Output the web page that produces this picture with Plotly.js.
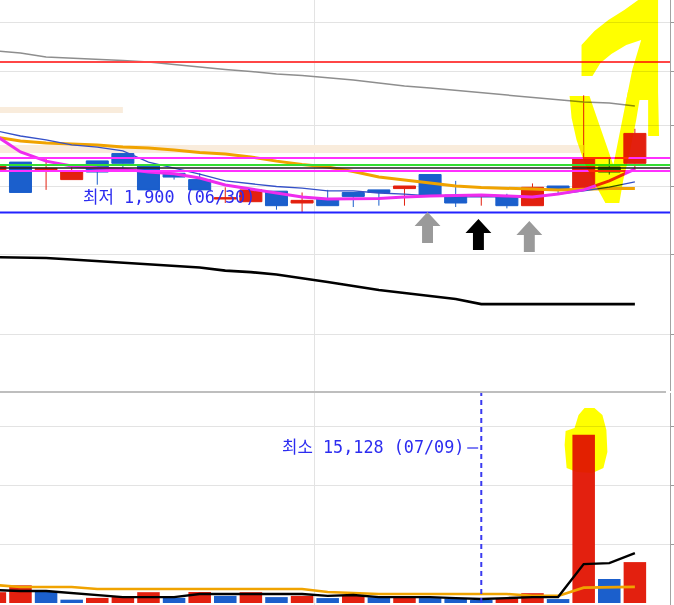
<!DOCTYPE html>
<html><head><meta charset="utf-8">
<script src="https://cdn.plot.ly/plotly-3.0.1.min.js"></script>
<style>
html,body{margin:0;padding:0;background:#fff;}
#chart{width:674px;height:605px;}
</style></head><body><div id="chart"></div>
<script>
// ---- data (index 0 = 06/12, partially visible at the left edge) ----
const dates = ['06/12','06/15','06/16','06/17','06/18','06/19','06/22','06/23','06/24','06/25','06/26','06/29','06/30',
               '07/01','07/02','07/03','07/06','07/07','07/08','07/09','07/10','07/13','07/14','07/15','07/16','07/17'];
const openP  = [2060,2095,2065,2025,2100,2130,2080,2050,2025,1950,1940,1980,1935,1950,1975,1985,1990,2045,1965,1960,1960,1925,2000,1990,2075,2090];
const highP  = [2100,2095,2110,2075,2100,2130,2080,2050,2050,1995,1985,1980,1975,1985,1975,1985,2000,2045,2020,1965,1970,2010,2000,2385,2110,2235];
const lowP   = [2045,1975,1985,2025,2005,2055,1985,2025,1985,1935,1940,1910,1900,1925,1920,1925,1925,1960,1920,1925,1915,1925,1970,1990,2045,2060];
const closeP = [2085,1975,2070,2055,2055,2090,1985,2035,1985,1955,1985,1925,1945,1925,1960,1975,2000,1960,1935,1965,1925,1995,1985,2110,2055,2215];

const ma5   = [2208,2137,2099,2079,2071,2067,2055,2048,2031,2004,1988,1973,1958,1950,1950,1952,1958,1962,1963,1965,1962,1958,1969,1985,2020,2067];
const ma10  = [2227,2204,2187,2166,2157,2141,2095,2071,2047,2020,2008,1998,1992,1981,1981,1973,1969,1962,1958,1958,1958,1958,1969,1981,1996,2016];
const ma20  = [2200,2183,2174,2170,2166,2157,2153,2145,2134,2128,2116,2099,2085,2075,2057,2035,2023,2010,2000,1994,1990,1988,1985,1988,1990,1990];
const ma60  = [1742,1741,1739,1734,1729,1724,1719,1712,1707,1697,1692,1684,1673,1660,1647,1634,1625,1615,1606,1590,1590,1590,1590,1590,1590,1590];
const ma120 = [2600,2589,2569,2564,2557,2552,2545,2532,2520,2508,2498,2486,2479,2469,2457,2443,2429,2419,2408,2396,2384,2373,2364,2354,2350,2336];

const volume = [55000,90000,57000,17000,26000,31000,55000,26000,56000,36000,55000,30000,36000,25000,41000,29000,31000,25000,23000,15128,25000,50000,20000,855000,122000,208000];
const volumeDir = ['up','up','down','down','up','up','up','down','up','down','up','down','up','down','up','down','up','down','down','down','up','up','down','up','down','up'];
const volMa5  = [66000,61000,61000,51000,41000,30000,30000,30000,46000,46000,46000,46000,46000,36000,41000,30000,30000,30000,25000,20000,25000,30000,30000,198000,203000,254000];
const volMa20 = [92000,81000,81000,81000,71000,71000,71000,71000,71000,71000,71000,71000,71000,56000,51000,46000,46000,46000,46000,46000,46000,36000,36000,78000,80000,82000];

const levelPrices = [2545, 2112, 2083, 2071, 2059, 1900];
const zoneLow  = [2305, 2132];
const zoneHigh = [2332, 2166];
const zoneEndIdx = [5, 23];
const priceGrid = [1500,1750,2000,2250,2500,2750];
const volGrid = [300000,600000,900000];
const lowLabel = '최저 1,900 (06/30)';
const minVolLabel = '최소 15,128 (07/09)';
const minVolIdx = 19;
const monthBoundary = 12.5;
const arrowIdx = [17, 19, 21];

// ---- styles ----
const RED = '#e3200f', BLUE = '#1b5fcc';
const levelColors = ['#ff4646','#ff30ff','#33dd33','#222222','#ff30ff','#2222ff'];
const levelWidths = [2,2,2,1.6,2,2];
const xIdx = dates.map((d,i)=>i);

const W = 674, H = 605;
const px = x => x / W;
const py = y => 1 - y / H;
function path(pts){ return 'M' + pts.map(p => px(p[0]).toFixed(5) + ',' + py(p[1]).toFixed(5)).join(' L') + ' Z'; }

const traces = [];
zoneLow.forEach((lo,k)=>{
  traces.push({type:'scatter', mode:'lines', x:[-2, zoneEndIdx[k], zoneEndIdx[k], -2], y:[lo, lo, zoneHigh[k], zoneHigh[k]],
    fill:'toself', fillcolor:'#f9ecdc', line:{width:0}, hoverinfo:'skip', xaxis:'x', yaxis:'y'});
});
const maDefs = [[ma120,'#8e8e8e',1.5],[ma60,'#000000',2.6],[ma20,'#f0a300',3],[ma10,'#3550c8',1.3],[ma5,'#ee2cee',3]];
maDefs.forEach(m=>traces.push({type:'scatter', mode:'lines', x:xIdx, y:m[0], line:{color:m[1], width:m[2]}, hoverinfo:'skip', xaxis:'x', yaxis:'y'}));
traces.push({type:'candlestick', x:xIdx, open:openP, high:highP, low:lowP, close:closeP, text:dates,
  increasing:{line:{color:RED, width:1}, fillcolor:RED},
  decreasing:{line:{color:BLUE, width:1}, fillcolor:BLUE},
  whiskerwidth:0, hoverinfo:'skip', xaxis:'x', yaxis:'y'});
levelPrices.forEach((p,k)=>traces.push({type:'scatter', mode:'lines', x:[-2, 30], y:[p,p], line:{color:levelColors[k], width:levelWidths[k]}, hoverinfo:'skip', xaxis:'x', yaxis:'y'}));
traces.push({type:'bar', x:xIdx, y:volume, marker:{color:volumeDir.map(d=>d==='up'?RED:BLUE), line:{width:0}}, width:0.88, hoverinfo:'skip', xaxis:'x', yaxis:'y2'});
traces.push({type:'scatter', mode:'lines', x:xIdx, y:volMa20, line:{color:'#f0a300', width:2.6}, hoverinfo:'skip', xaxis:'x', yaxis:'y2'});
traces.push({type:'scatter', mode:'lines', x:xIdx, y:volMa5, line:{color:'#000000', width:2.4}, hoverinfo:'skip', xaxis:'x', yaxis:'y2'});

const x0 = 0.2, pitch = 25.6, plotW = 670;
const upperBottom = 1 - 391/H, lowerTop = 1 - 393/H;

const shapes = [
  {type:'line', xref:'paper', yref:'paper', x0:0, x1:plotW/W, y0:py(392), y1:py(392), line:{color:'#a9a9a9', width:1.6}},
  {type:'line', xref:'x', yref:'paper', x0:minVolIdx, x1:minVolIdx, y0:py(603), y1:py(393), line:{color:'#3a3af0', width:2, dash:'5px,4px'}},
  {type:'line', xref:'paper', yref:'paper', x0:px(470), x1:px(481), y0:py(448), y1:py(448), line:{color:'#3a3af0', width:1.3}},
];
const arrowColors = ['#9a9a9a','#000000','#9a9a9a'];
const arrowTop = [212, 219, 221];
arrowIdx.forEach((idx,k)=>{
  const cx = (idx - x0) * pitch, t = arrowTop[k];
  shapes.push({type:'path', xref:'paper', yref:'paper', fillcolor:arrowColors[k], line:{width:0},
    path: path([[cx,t],[cx+13,t+14],[cx+5.5,t+14],[cx+5.5,t+31],[cx-5.5,t+31],[cx-5.5,t+14],[cx-13,t+14]])});
});
const YEL = '#ffff00';
shapes.push({type:'path', xref:'paper', yref:'paper', fillcolor:YEL, line:{width:0}, path: path([
  [573,96],[593,96],[603,125],[617,165],[624,130],[632,90],[645,90],[640,120],[633,155],[627,180],[623,203],[609,203],[598,183],[588,163],[580,140],[575,118]])});
shapes.push({type:'path', xref:'paper', yref:'paper', fillcolor:YEL, line:{width:0}, path: path([
  [585,45],[598,31],[612,20],[628,10],[642,0],[662,0],[662,92],[663,136],[652,136],[652,100],[630,100],[636,70],[645,40],[630,45],[615,54],[604,63],[596,76],[585,76]])});
shapes.push({type:'path', xref:'paper', yref:'paper', fillcolor:YEL, line:{width:0}, path: path([
  [568,445],[569,431],[578,428],[582,415],[588,408],[598,408],[606,415],[610,430],[611,452],[607,468],[596,473],[580,472],[570,468]])});

const labelFont = {family:'DejaVu Sans Mono, Noto Sans CJK KR, sans-serif', size:16.8, color:'#2c2cf0'};
const annotations = [
  {xref:'paper', yref:'paper', x:px(81), y:py(197), xanchor:'left', yanchor:'middle', text:lowLabel, showarrow:false, font:labelFont},
  {xref:'paper', yref:'paper', x:px(282), y:py(447), xanchor:'left', yanchor:'middle', text:minVolLabel, showarrow:false, font:labelFont}
];

const layout = {
  width:W, height:H, margin:{l:0, r:W-plotW, t:0, b:0},
  paper_bgcolor:'#ffffff', plot_bgcolor:'#ffffff', showlegend:false, hovermode:false,
  boxgap:0.14, boxgroupgap:0, bargap:0.12,
  xaxis:{type:'linear', range:[x0, x0 + plotW/pitch], tickvals:[monthBoundary], showgrid:true, gridcolor:'#e3e3e3', gridwidth:1,
    showticklabels:false, ticks:'', zeroline:false, showline:false, rangeslider:{visible:false}, anchor:'y2', fixedrange:true},
  yaxis:{type:'log', domain:[upperBottom, 1], range:[Math.log10(1343.2), Math.log10(2870.1)], side:'right',
    tickvals:priceGrid, showticklabels:false, ticks:'outside', ticklen:4, tickcolor:'#999', gridcolor:'#e3e3e3', gridwidth:1,
    showline:true, linecolor:'#a3a3a3', linewidth:1.2, zeroline:false, fixedrange:true},
  yaxis2:{domain:[0, lowerTop], range:[-10170, 1067850], side:'right',
    tickvals:volGrid, showticklabels:false, ticks:'outside', ticklen:4, tickcolor:'#999', gridcolor:'#e3e3e3', gridwidth:1,
    showline:true, linecolor:'#a3a3a3', linewidth:1.2, zeroline:false, fixedrange:true},
  shapes:shapes, annotations:annotations
};

Plotly.newPlot('chart', traces, layout, {staticPlot:true, displayModeBar:false}).then(gd=>{
  gd.querySelectorAll('.shapelayer path').forEach(p=>{
    const f = getComputedStyle(p).fill;
    if (f === 'rgb(255, 255, 0)') p.style.mixBlendMode = 'multiply';
  });
});
</script></body></html>
